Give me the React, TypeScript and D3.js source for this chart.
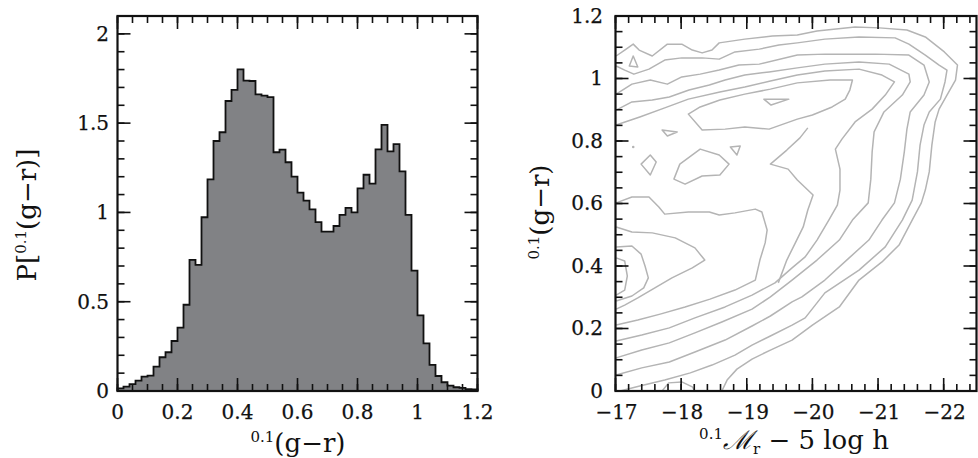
import React from "react";
import * as d3 from "d3";

// ---------------- Left panel data: histogram of 0.1(g-r) ----------------
const histBinWidth = 0.02;
const histValues = [
  0.015, 0.024, 0.039, 0.058, 0.08, 0.086, 0.136, 0.189, 0.217, 0.28,
  0.355, 0.483, 0.734, 0.706, 0.973, 1.185, 1.4, 1.449, 1.624, 1.686,
  1.801, 1.738, 1.736, 1.661, 1.654, 1.646, 1.337, 1.352, 1.281, 1.2,
  1.111, 1.066, 1.017, 0.946, 0.892, 0.892, 0.924, 0.986, 1.025, 1.0,
  1.135, 1.211, 1.161, 1.353, 1.49, 1.342, 1.383, 1.23, 0.986, 0.674,
  0.424, 0.267, 0.146, 0.084, 0.049, 0.03, 0.021, 0.017, 0.011, 0.009,
];
const histXTicks = [0, 0.2, 0.4, 0.6, 0.8, 1, 1.2];
const histXLabels = ["0", "0.2", "0.4", "0.6", "0.8", "1", "1.2"];
const histYTicks = [0, 0.5, 1, 1.5, 2];
const histYLabels = ["0", "0.5", "1", "1.5", "2"];

// ---------------- Right panel data: contours in (M_r, g-r) ----------------
const cmdXTicks = [-17, -18, -19, -20, -21, -22];
const cmdXLabels = ["\u221217", "\u221218", "\u221219", "\u221220", "\u221221", "\u221222"];
const cmdYTicks = [0, 0.2, 0.4, 0.6, 0.8, 1, 1.2];
const cmdYLabels = ["0", "0.2", "0.4", "0.6", "0.8", "1", "1.2"];

type Pt = [number, number];

const contourA: Pt[] = [
  [-17.01, 1.072], [-17.14, 1.091], [-17.27, 1.11], [-17.36, 1.091], [-17.56, 1.072],
  [-17.79, 1.11], [-18.01, 1.11], [-18.17, 1.091], [-18.32, 1.082], [-18.47, 1.091],
  [-18.58, 1.114], [-18.97, 1.126], [-19.39, 1.136], [-19.77, 1.139], [-20.07, 1.152],
  [-20.65, 1.165], [-21.02, 1.162], [-21.44, 1.155], [-21.72, 1.133], [-22.01, 1.085],
  [-22.21, 1.043], [-22.18, 0.995], [-22.05, 0.947], [-21.93, 0.902], [-21.87, 0.861],
  [-21.82, 0.787], [-21.78, 0.701], [-21.72, 0.643], [-21.66, 0.602], [-21.52, 0.547],
  [-21.32, 0.467], [-21.06, 0.413], [-20.71, 0.355], [-20.41, 0.269], [-20.0, 0.211],
  [-19.69, 0.163], [-19.36, 0.131], [-19.08, 0.102], [-18.85, 0.07], [-18.7, 0.035],
  [-18.62, 0],
];
const contourB: Pt[] = [
  [-17.01, 1.04], [-17.14, 1.027], [-17.28, 1.014], [-17.51, 1.03], [-17.75, 1.059],
  [-18.01, 1.066], [-18.32, 1.066], [-18.58, 1.062], [-18.82, 1.085], [-19.19, 1.094],
  [-19.49, 1.107], [-19.77, 1.114], [-20.19, 1.126], [-20.71, 1.133], [-21.26, 1.13],
  [-21.47, 1.11], [-21.72, 1.075], [-21.93, 1.043], [-22.05, 1.027], [-22.02, 0.989],
  [-21.95, 0.934], [-21.78, 0.893], [-21.7, 0.851], [-21.64, 0.787], [-21.6, 0.701],
  [-21.52, 0.611], [-21.37, 0.547], [-21.11, 0.461], [-20.71, 0.387], [-20.19, 0.314],
  [-19.89, 0.234], [-19.69, 0.211], [-19.36, 0.176], [-19.08, 0.147], [-18.82, 0.115],
  [-18.47, 0.083], [-18.14, 0.058], [-17.75, 0.035], [-17.37, 0.016], [-17.07, 0],
];
const contourC: Pt[] = [
  [-17.01, 0.95], [-17.25, 0.982], [-17.53, 0.995], [-17.79, 0.982], [-18.01, 1.005],
  [-18.29, 1.014], [-18.58, 1.027], [-18.88, 1.043], [-19.19, 1.046], [-19.77, 1.075],
  [-20.19, 1.078], [-20.96, 1.078], [-21.47, 1.075], [-21.7, 1.043], [-21.78, 0.989],
  [-21.7, 0.947], [-21.49, 0.893], [-21.44, 0.838], [-21.4, 0.765], [-21.34, 0.678],
  [-21.25, 0.602], [-21.06, 0.547], [-20.86, 0.483], [-20.56, 0.426], [-20.19, 0.355],
  [-19.84, 0.301], [-19.69, 0.285], [-19.36, 0.24], [-19.08, 0.208], [-18.67, 0.163],
  [-18.21, 0.125], [-17.82, 0.093], [-17.4, 0.074], [-17.01, 0.051],
];
const contourD: Pt[] = [
  [-17.01, 0.899], [-17.25, 0.925], [-17.56, 0.931], [-17.82, 0.941], [-18.12, 0.963],
  [-18.43, 0.979], [-18.67, 0.995], [-18.97, 1.011], [-19.34, 1.021], [-19.77, 1.034],
  [-20.19, 1.046], [-20.71, 1.053], [-21.17, 1.046], [-21.47, 1.014], [-21.49, 0.989],
  [-21.37, 0.947], [-21.09, 0.893], [-20.94, 0.829], [-20.91, 0.765], [-20.89, 0.678],
  [-20.85, 0.602], [-20.61, 0.547], [-20.41, 0.483], [-20.07, 0.419], [-19.69, 0.355],
  [-19.36, 0.301], [-19.08, 0.262], [-18.62, 0.221], [-18.21, 0.186], [-17.82, 0.154],
  [-17.4, 0.131], [-17.01, 0.106],
];
const contourE: Pt[] = [
  [-17.01, 0.851], [-17.37, 0.877], [-17.75, 0.906], [-18.11, 0.934], [-18.59, 0.957],
  [-18.97, 0.973], [-19.36, 0.992], [-19.77, 1.011], [-20.19, 1.024], [-20.71, 1.03],
  [-21.06, 1.011], [-21.25, 0.989], [-21.11, 0.947], [-20.91, 0.902], [-20.65, 0.861],
  [-20.45, 0.806], [-20.35, 0.774], [-20.42, 0.71], [-20.42, 0.643], [-20.38, 0.595],
  [-20.25, 0.547], [-20.07, 0.483], [-19.89, 0.429], [-19.69, 0.394], [-19.43, 0.346],
  [-19.08, 0.307], [-18.67, 0.269], [-18.21, 0.234], [-17.82, 0.202], [-17.4, 0.179],
  [-17.01, 0.16],
];
const contourV: Pt[] = [
  [-19.93, 0.842], [-19.81, 0.81], [-19.61, 0.771], [-19.36, 0.726], [-19.63, 0.71],
  [-19.77, 0.675], [-20.01, 0.627], [-19.93, 0.579], [-19.86, 0.525], [-19.74, 0.474],
  [-19.61, 0.419], [-19.48, 0.346],
];
const contourBlueOuter: Pt[] = [
  [-17.01, 0.602], [-17.25, 0.621], [-17.51, 0.621], [-17.66, 0.589], [-17.75, 0.566],
  [-18.11, 0.573], [-18.43, 0.573], [-18.58, 0.563], [-18.82, 0.57], [-19.13, 0.582],
  [-19.23, 0.573], [-19.31, 0.515], [-19.28, 0.474], [-19.2, 0.419], [-19.13, 0.355],
  [-18.82, 0.323], [-18.44, 0.294], [-18.06, 0.269], [-17.68, 0.246], [-17.34, 0.227],
  [-17.01, 0.211],
];
const contourBlueMid: Pt[] = [
  [-17.01, 0.525], [-17.25, 0.509], [-17.56, 0.506], [-17.91, 0.49], [-18.21, 0.458],
  [-18.36, 0.419], [-18.17, 0.394], [-17.86, 0.362], [-17.6, 0.33], [-17.34, 0.298],
  [-17.14, 0.275], [-17.01, 0.262],
];
const contourBlueInner: Pt[] = [
  [-17.01, 0.461], [-17.25, 0.464], [-17.39, 0.438], [-17.45, 0.4], [-17.5, 0.362],
  [-17.43, 0.33], [-17.25, 0.304], [-17.01, 0.288],
];
const contourBlueCore: Pt[] = [
  [-17.01, 0.426], [-17.14, 0.416], [-17.18, 0.368], [-17.14, 0.323], [-17.01, 0.307],
];
const contourBottomArc: Pt[] = [
  [-17.71, 0], [-17.81, 0.026], [-18.01, 0.029], [-18.17, 0.013], [-18.21, 0],
];

// closed loops
const loopRidge: Pt[] = [
  [-18.11, 0.886], [-18.29, 0.909], [-18.59, 0.931], [-18.97, 0.95], [-19.36, 0.966],
  [-19.77, 0.986], [-20.27, 0.995], [-20.61, 0.995], [-20.57, 0.963], [-20.5, 0.934],
  [-20.3, 0.909], [-20.0, 0.883], [-19.77, 0.87], [-19.34, 0.838], [-18.97, 0.845],
  [-18.67, 0.838], [-18.32, 0.835],
];
const loopRidgeCore: Pt[] = [[-19.26, 0.934], [-19.64, 0.934], [-19.37, 0.915]];
const loopTopLeft: Pt[] = [[-17.27, 1.072], [-17.21, 1.04], [-17.34, 1.037]];
const loopDiamond: Pt[] = [[-17.39, 0.726], [-17.53, 0.755], [-17.62, 0.733], [-17.53, 0.691]];
const loopBlob: Pt[] = [
  [-17.89, 0.678], [-17.98, 0.726], [-18.29, 0.774], [-18.58, 0.755], [-18.73, 0.726],
  [-18.59, 0.691], [-18.32, 0.688], [-18.06, 0.662],
];
const loopSmall1: Pt[] = [[-18.75, 0.781], [-18.9, 0.784], [-18.85, 0.755]];
const loopSmall2: Pt[] = [[-17.71, 0.835], [-17.94, 0.829], [-17.79, 0.816]];
const dotPoints: Pt[] = [[-17.27, 0.781]];

const openContours = [
  contourA, contourB, contourC, contourD, contourE, contourV,
  contourBlueOuter, contourBlueMid, contourBlueInner, contourBlueCore, contourBottomArc,
];
const closedContours = [loopRidge, loopRidgeCore, loopTopLeft, loopDiamond, loopBlob, loopSmall1, loopSmall2];

// ---------------- Layout ----------------
const W = 978;
const H = 458;
const TOP = 16;
const BOTTOM = 391;
const L1 = 117.5, R1 = 477.5;
const L2 = 615.5, R2 = 976.5;
const MAJ = 13;
const MIN = 7;
const FONT = "'DejaVu Serif', 'Liberation Serif', serif";
const TICK_FS = 20;
const TITLE_FS = 26;
const SUP_FS = 15;

type FrameProps = {
  x: d3.ScaleLinear<number, number>;
  y: d3.ScaleLinear<number, number>;
  xMajor: number[];
  xMinor: number[];
  yMajor: number[];
  yMinor: number[];
};

function Frame({ x, y, xMajor, xMinor, yMajor, yMinor }: FrameProps) {
  const [x0, x1] = x.range();
  const [y0, y1] = y.range(); // y0 bottom, y1 top
  const items: React.ReactNode[] = [];
  const addX = (v: number, len: number, key: string) => {
    const px = x(v);
    items.push(<line key={"xb" + key} x1={px} x2={px} y1={y0} y2={y0 - len} />);
    items.push(<line key={"xt" + key} x1={px} x2={px} y1={y1} y2={y1 + len} />);
  };
  const addY = (v: number, len: number, key: string) => {
    const py = y(v);
    items.push(<line key={"yl" + key} x1={x0} x2={x0 + len} y1={py} y2={py} />);
    items.push(<line key={"yr" + key} x1={x1} x2={x1 - len} y1={py} y2={py} />);
  };
  xMinor.forEach((v, i) => addX(v, MIN, "m" + i));
  xMajor.forEach((v, i) => addX(v, MAJ, "M" + i));
  yMinor.forEach((v, i) => addY(v, MIN, "m" + i));
  yMajor.forEach((v, i) => addY(v, MAJ, "M" + i));
  return (
    <g>
      <g stroke="#111" strokeWidth={1.6}>{items}</g>
      <rect
        x={Math.min(x0, x1)}
        y={y1}
        width={Math.abs(x1 - x0)}
        height={y0 - y1}
        fill="none"
        stroke="#111"
        strokeWidth={2.2}
      />
    </g>
  );
}

export default function App() {
  // Left panel scales
  const xh = d3.scaleLinear().domain([0, 1.2]).range([L1, R1]);
  const yh = d3.scaleLinear().domain([0, 2.1]).range([BOTTOM, TOP]);
  // Right panel scales
  const xc = d3.scaleLinear().domain([-17, -22.5]).range([L2, R2]);
  const yc = d3.scaleLinear().domain([0, 1.2]).range([BOTTOM, TOP]);

  const histPts = histValues.map((v, i) => [i * histBinWidth, v] as Pt);
  histPts.push([histValues.length * histBinWidth, histValues[histValues.length - 1]]);
  const histArea = d3
    .area<Pt>()
    .x((d) => xh(d[0]))
    .y0(yh(0))
    .y1((d) => yh(d[1]))
    .curve(d3.curveStepAfter)(histPts) as string;
  const histLine = d3
    .line<Pt>()
    .x((d) => xh(d[0]))
    .y((d) => yh(d[1]))
    .curve(d3.curveStepAfter)([[0, 0] as Pt, ...histPts, [1.2, 0] as Pt]) as string;

  const cLine = d3.line<Pt>().x((d) => xc(d[0])).y((d) => yc(d[1]));
  const cLoop = d3.line<Pt>().x((d) => xc(d[0])).y((d) => yc(d[1])).curve(d3.curveLinearClosed);

  const histXMinor = d3.range(0, 1.2001, 0.05);
  const histYMinor = d3.range(0, 2.1, 0.1);
  const cmdXMinor = d3.range(-17, -22.5, -0.2);
  const cmdYMinor = d3.range(0, 1.2001, 0.05);

  return (
    <svg
      width={W}
      height={H}
      viewBox={`0 0 ${W} ${H}`}
      style={{ position: "absolute", left: 0, top: 0, background: "#fff" }}
      fontFamily={FONT}
    >
      <rect x={0} y={0} width={W} height={H} fill="#fff" />
      {/* ---------- Left panel ---------- */}
      <path d={histArea} fill="#818285" stroke="none" />
      <path d={histLine} fill="none" stroke="#111" strokeWidth={1.8} strokeLinejoin="miter" />
      <Frame
        x={xh}
        y={yh}
        xMajor={histXTicks}
        xMinor={histXMinor}
        yMajor={histYTicks}
        yMinor={histYMinor}
      />
      <g fontSize={TICK_FS} fill="#111" stroke="#111" strokeWidth={0.25}>
        {histXTicks.map((v, i) => (
          <text key={"hx" + i} x={xh(v)} y={419} textAnchor="middle">
            {histXLabels[i]}
          </text>
        ))}
        {histYTicks.map((v, i) => (
          <text key={"hy" + i} x={109} y={yh(v) + 7} textAnchor="end">
            {histYLabels[i]}
          </text>
        ))}
      </g>
      <text x={298} y={452} textAnchor="middle" fontSize={TITLE_FS} fill="#111">
        <tspan fontSize={SUP_FS} dy={-10}>0.1</tspan>
        <tspan dy={10}>(g{"\u2212"}r)</tspan>
      </text>
      <text transform="translate(36,215) rotate(-90)" textAnchor="middle" fontSize={TITLE_FS} fill="#111">
        P[
        <tspan fontSize={SUP_FS} dy={-10}>0.1</tspan>
        <tspan dy={10}>(g{"\u2212"}r)]</tspan>
      </text>

      {/* ---------- Right panel ---------- */}
      <defs>
        <clipPath id="cmdClip">
          <rect x={L2} y={TOP} width={R2 - L2} height={BOTTOM - TOP} />
        </clipPath>
      </defs>
      <g clipPath="url(#cmdClip)" fill="none" stroke="#b4b4b4" strokeWidth={1.5} strokeLinejoin="round">
        {openContours.map((c, i) => (
          <path key={"oc" + i} d={cLine(c) as string} />
        ))}
        {closedContours.map((c, i) => (
          <path key={"cc" + i} d={cLoop(c) as string} />
        ))}
        {dotPoints.map((p, i) => (
          <circle key={"dot" + i} cx={xc(p[0])} cy={yc(p[1])} r={1.3} fill="#b4b4b4" stroke="none" />
        ))}
      </g>
      <Frame
        x={xc}
        y={yc}
        xMajor={cmdXTicks}
        xMinor={cmdXMinor}
        yMajor={cmdYTicks}
        yMinor={cmdYMinor}
      />
      <g fontSize={TICK_FS} fill="#111" stroke="#111" strokeWidth={0.25}>
        {cmdXTicks.map((v, i) => (
          <text key={"cx" + i} x={xc(v) + 1} y={419} textAnchor="middle">
            {cmdXLabels[i]}
          </text>
        ))}
        {cmdYTicks.map((v, i) => (
          <text key={"cy" + i} x={603} y={yc(v) + 6.5} textAnchor="end">
            {cmdYLabels[i]}
          </text>
        ))}
      </g>
      <text x={794} y={449} textAnchor="middle" fontSize={TITLE_FS} fill="#111">
        <tspan fontSize={SUP_FS} dy={-10}>0.1</tspan>
        <tspan dy={10} fontStyle="italic">{"\u2133"}</tspan>
        <tspan fontSize={SUP_FS} dy={5}>r</tspan>
        <tspan dy={-5}>{" \u2212 5 log h"}</tspan>
      </text>
      <text transform="translate(549,212) rotate(-90)" textAnchor="middle" fontSize={TITLE_FS} fill="#111">
        <tspan fontSize={SUP_FS} dy={-10}>0.1</tspan>
        <tspan dy={10}>(g{"\u2212"}r)</tspan>
      </text>
    </svg>
  );
}
